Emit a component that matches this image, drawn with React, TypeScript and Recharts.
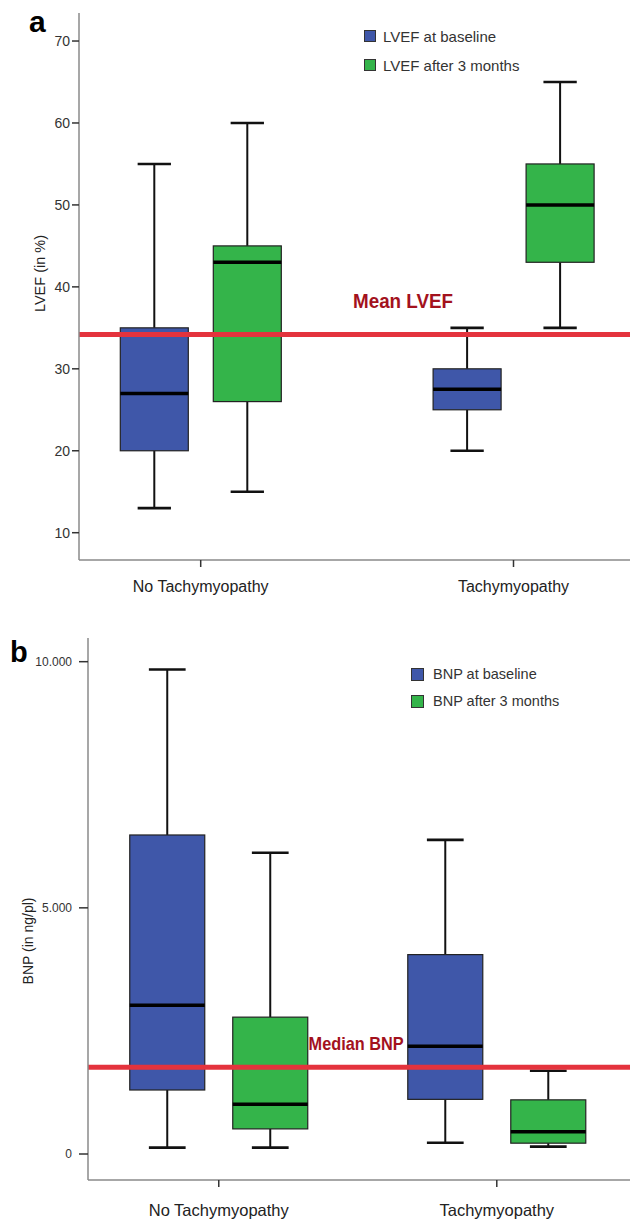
import React from 'react';
import { ComposedChart, Bar, XAxis, YAxis, ReferenceLine, Legend, Label } from 'recharts';

const FONT = '"Liberation Sans", Arial, sans-serif';

const CATEGORIES = ['No Tachymyopathy', 'Tachymyopathy'];

// Panel a: LVEF (in %)
const LVEF_SERIES = ['LVEF at baseline', 'LVEF after 3 months'];
const LVEF_BASE_MIN = [13, 20];
const LVEF_BASE_Q1 = [20, 25];
const LVEF_BASE_MED = [27, 27.5];
const LVEF_BASE_Q3 = [35, 30];
const LVEF_BASE_MAX = [55, 35];
const LVEF_AFTER_MIN = [15, 35];
const LVEF_AFTER_Q1 = [26, 43];
const LVEF_AFTER_MED = [43, 50];
const LVEF_AFTER_Q3 = [45, 55];
const LVEF_AFTER_MAX = [60, 65];
const LVEF_MEAN = 34.2;
const LVEF_TICKS = [10, 20, 30, 40, 50, 60, 70];

// Panel b: BNP (in ng/pl)
const BNP_SERIES = ['BNP at baseline', 'BNP after 3 months'];
const BNP_BASE_MIN = [130, 230];
const BNP_BASE_Q1 = [1300, 1110];
const BNP_BASE_MED = [3020, 2190];
const BNP_BASE_Q3 = [6480, 4050];
const BNP_BASE_MAX = [9840, 6380];
const BNP_AFTER_MIN = [130, 150];
const BNP_AFTER_Q1 = [510, 220];
const BNP_AFTER_MED = [1010, 450];
const BNP_AFTER_Q3 = [2780, 1100];
const BNP_AFTER_MAX = [6120, 1690];
const BNP_MEDIAN = 1760;
const BNP_TICKS = [0, 5000, 10000];

const BLUE = '#3F57A9';
const GREEN = '#34B44A';
const RED_LINE = '#E4333D';
const RED_TEXT = '#A3121D';

const lvefRows = CATEGORIES.map((cat, i) => ({
  cat,
  base: { min: LVEF_BASE_MIN[i], q1: LVEF_BASE_Q1[i], med: LVEF_BASE_MED[i], q3: LVEF_BASE_Q3[i], max: LVEF_BASE_MAX[i] },
  after: { min: LVEF_AFTER_MIN[i], q1: LVEF_AFTER_Q1[i], med: LVEF_AFTER_MED[i], q3: LVEF_AFTER_Q3[i], max: LVEF_AFTER_MAX[i] },
}));

const bnpRows = CATEGORIES.map((cat, i) => ({
  cat,
  base: { min: BNP_BASE_MIN[i], q1: BNP_BASE_Q1[i], med: BNP_BASE_MED[i], q3: BNP_BASE_Q3[i], max: BNP_BASE_MAX[i] },
  after: { min: BNP_AFTER_MIN[i], q1: BNP_AFTER_Q1[i], med: BNP_AFTER_MED[i], q3: BNP_AFTER_Q3[i], max: BNP_AFTER_MAX[i] },
}));

const makeBox = (which: 'base' | 'after', fill: string) => (p: any) => {
  const { x, y, width, height, payload } = p;
  const s = payload[which];
  const span = s.max - s.min;
  const yOf = (v: number) => y + (height * (s.max - v)) / span;
  const cx = x + width / 2;
  const capW = width * 0.49;
  const yMax = yOf(s.max);
  const yQ3 = yOf(s.q3);
  const yMed = yOf(s.med);
  const yQ1 = yOf(s.q1);
  const yMin = yOf(s.min);
  return (
    <g>
      <line x1={cx} x2={cx} y1={yMax} y2={yQ3} stroke="#111" strokeWidth={2} />
      <line x1={cx} x2={cx} y1={yQ1} y2={yMin} stroke="#111" strokeWidth={2} />
      <line x1={cx - capW / 2} x2={cx + capW / 2} y1={yMax} y2={yMax} stroke="#111" strokeWidth={2.6} />
      <line x1={cx - capW / 2} x2={cx + capW / 2} y1={yMin} y2={yMin} stroke="#111" strokeWidth={2.6} />
      <rect x={x} y={yQ3} width={width} height={yQ1 - yQ3} fill={fill} stroke="#222" strokeWidth={1.2} />
      <line x1={x} x2={x + width} y1={yMed} y2={yMed} stroke="#000" strokeWidth={3.5} />
    </g>
  );
};

const makeLegend = (order: string[], fontSize: number, rowH: number, sq: number, gap: number) => (props: any) => {
  const items = [...(props.payload || [])].sort(
    (a: any, b: any) => order.indexOf(a.value) - order.indexOf(b.value)
  );
  return (
    <div style={{ fontFamily: FONT, fontSize, color: '#333' }}>
      {items.map((e: any) => (
        <div key={e.value} style={{ display: 'flex', alignItems: 'center', height: rowH, whiteSpace: 'nowrap' }}>
          <span
            style={{
              display: 'inline-block',
              width: sq,
              height: sq,
              background: e.color,
              border: '1px solid #333',
              boxSizing: 'border-box',
              marginRight: gap,
            }}
          />
          {e.value}
        </div>
      ))}
    </div>
  );
};

const fmtDot = (v: number) => String(v).replace(/\B(?=(\d{3})+(?!\d))/g, '.');

const yLabel = (text: string, dx: number, dy: number, fontSize: number) => (p: any) => {
  const vb = p.viewBox || {};
  const cx = vb.x + dx;
  const cy = vb.y + vb.height / 2 + dy;
  return (
    <text
      x={cx}
      y={cy}
      transform={`rotate(-90 ${cx} ${cy})`}
      textAnchor="middle"
      dominantBaseline="central"
      fontFamily={FONT}
      fontSize={fontSize}
      fill="#222"
    >
      {text}
    </text>
  );
};

const refLabel = (text: string, dx: number, dy: number, fontSize: number, len: number) => (p: any) => {
  const vb = p.viewBox || {};
  return (
    <text
      x={vb.x + dx}
      y={vb.y + dy}
      fontFamily={FONT}
      fontWeight="bold"
      fontSize={fontSize}
      fill={RED_TEXT}
      textLength={len}
      lengthAdjust="spacingAndGlyphs"
    >
      {text}
    </text>
  );
};

export default function App() {
  return (
    <div style={{ position: 'absolute', left: 0, top: 0, width: 630, height: 1222, overflow: 'hidden', background: '#fff' }}>
      <div style={{ position: 'absolute', left: 29, top: 7, fontFamily: FONT, fontWeight: 'bold', fontSize: 30, lineHeight: '30px' }}>a</div>
      <div style={{ position: 'absolute', left: 10, top: 638, fontFamily: FONT, fontWeight: 'bold', fontSize: 29, lineHeight: '29px' }}>b</div>

      <div style={{ position: 'absolute', left: 0, top: 0 }}>
        <ComposedChart
          width={630}
          height={610}
          data={lvefRows}
          margin={{ top: 13, right: 0, bottom: 10, left: 0 }}
          barSize={68}
          barGap={25}
        >
          <XAxis
            dataKey="cat"
            height={40}
            padding={{ left: -34.7, right: -39.9 }}
            axisLine={{ stroke: '#8a8a8a', strokeWidth: 1.5 }}
            tickLine={{ stroke: '#333', strokeWidth: 1.5 }}
            tickSize={7}
            tickMargin={14}
            tick={{ fontSize: 16, fill: '#222', fontFamily: FONT }}
          />
          <YAxis
            width={79}
            type="number"
            domain={[6.67, 73.42]}
            ticks={LVEF_TICKS}
            allowDataOverflow
            axisLine={{ stroke: '#8a8a8a', strokeWidth: 1.5 }}
            tickLine={{ stroke: '#333', strokeWidth: 1.5 }}
            tickSize={7}
            tickMargin={2}
            tick={{ fontSize: 14, fill: '#333', fontFamily: FONT }}
          >
            <Label content={yLabel('LVEF (in %)', 40, -13, 14.5)} />
          </YAxis>
          <Legend
            verticalAlign="middle"
            align="center"
            layout="horizontal"
            wrapperStyle={{ left: 364, top: 21.5, width: 'auto', height: 'auto' }}
            content={makeLegend(LVEF_SERIES, 15, 29, 12, 7)}
          />
          <Bar
            name={LVEF_SERIES[0]}
            dataKey={(d: any) => [d.base.min, d.base.max]}
            fill={BLUE}
            legendType="square"
            isAnimationActive={false}
            shape={makeBox('base', BLUE)}
          />
          <Bar
            name={LVEF_SERIES[1]}
            dataKey={(d: any) => [d.after.min, d.after.max]}
            fill={GREEN}
            legendType="square"
            isAnimationActive={false}
            shape={makeBox('after', GREEN)}
          />
          <ReferenceLine y={LVEF_MEAN} stroke={RED_LINE} strokeWidth={5}>
            <Label content={refLabel('Mean LVEF', 274, -26, 21, 100)} />
          </ReferenceLine>
        </ComposedChart>
      </div>

      <div style={{ position: 'absolute', left: 0, top: 610 }}>
        <ComposedChart
          width={630}
          height={612}
          data={bnpRows}
          margin={{ top: 28, right: 0, bottom: 2, left: 0 }}
          barSize={75}
          barGap={28}
        >
          <XAxis
            dataKey="cat"
            height={40}
            padding={{ left: -8.25, right: -5.8 }}
            axisLine={{ stroke: '#8a8a8a', strokeWidth: 1.5 }}
            tickLine={{ stroke: '#333', strokeWidth: 1.5 }}
            tickSize={7}
            tickMargin={17}
            tick={{ fontSize: 16.5, fill: '#222', fontFamily: FONT }}
          />
          <YAxis
            width={88}
            type="number"
            domain={[-528, 10481]}
            ticks={BNP_TICKS}
            allowDataOverflow
            tickFormatter={fmtDot}
            axisLine={{ stroke: '#8a8a8a', strokeWidth: 1.5 }}
            tickLine={{ stroke: '#333', strokeWidth: 1.5 }}
            tickSize={9}
            tickMargin={7}
            tick={{ fontSize: 12, fill: '#333', fontFamily: FONT }}
          >
            <Label content={yLabel('BNP (in ng/pl)', 28, 32, 14)} />
          </YAxis>
          <Legend
            verticalAlign="middle"
            align="center"
            layout="horizontal"
            wrapperStyle={{ left: 411, top: 50.5, width: 'auto', height: 'auto' }}
            content={makeLegend(BNP_SERIES, 14.5, 27, 13, 9)}
          />
          <Bar
            name={BNP_SERIES[0]}
            dataKey={(d: any) => [d.base.min, d.base.max]}
            fill={BLUE}
            legendType="square"
            isAnimationActive={false}
            shape={makeBox('base', BLUE)}
          />
          <Bar
            name={BNP_SERIES[1]}
            dataKey={(d: any) => [d.after.min, d.after.max]}
            fill={GREEN}
            legendType="square"
            isAnimationActive={false}
            shape={makeBox('after', GREEN)}
          />
          <ReferenceLine y={BNP_MEDIAN} stroke={RED_LINE} strokeWidth={5}>
            <Label content={refLabel('Median BNP', 220.6, -17, 19, 95)} />
          </ReferenceLine>
        </ComposedChart>
      </div>
    </div>
  );
}
